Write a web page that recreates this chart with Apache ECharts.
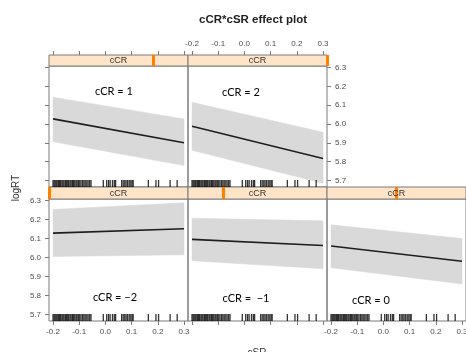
<!DOCTYPE html>
<html lang="en">
  <head>
    <meta charset="UTF-8" />
    <script src="https://cdn.jsdelivr.net/npm/echarts@6/dist/echarts.min.js"></script>
    <title>cCR*cSR effect plot</title>
    <style>
      html, body { margin: 0; padding: 0; background: #fff; }
      #app { width: 466px; height: 352px; }
    </style>
  </head>
  <body>
    <div id="app"></div>

    <script>
      // panels in lattice order: top row cCR = 1, 2 ; bottom row cCR = -2, -1, 0
      const cCRLevels = [1, 2, -2, -1, 0];
      const panelNotes = ["cCR = 1", "cCR = 2", "cCR = \u22122", "cCR =  \u22121", "cCR = 0"];
      const cSREnds = [-0.2, 0.3];
      const fitStart = [6.027, 5.988, 6.128, 6.095, 6.06];
      const fitEnd = [5.9, 5.816, 6.151, 6.063, 5.98];
      const lowerStart = [5.906, 5.86, 6.005, 5.983, 5.946];
      const lowerEnd = [5.779, 5.685, 6.014, 5.94, 5.86];
      const upperStart = [6.142, 6.115, 6.253, 6.207, 6.172];
      const upperEnd = [6.027, 5.956, 6.288, 6.193, 6.1];
      // observed cSR values (rug)
      const rugCSR = [
        -0.2, -0.196, -0.192, -0.188, -0.184, -0.179, -0.175, -0.171, -0.166, -0.162,
        -0.158, -0.153, -0.149, -0.144, -0.14, -0.135, -0.131, -0.126, -0.122, -0.117,
        -0.112, -0.108, -0.103, -0.098, -0.093, -0.087, -0.082, -0.077, -0.071, -0.066,
        -0.06, -0.055, -0.008, 0.005, 0.012, 0.018, 0.027, 0.034, 0.039, 0.062, 0.068,
        0.074, 0.079, 0.085, 0.091, 0.097, 0.102, 0.106, 0.164, 0.193, 0.203, 0.247, 0.274,
      ];
      const cSRTicks = [-0.2, -0.1, 0.0, 0.1, 0.2, 0.3];
      const logRTTicks = [5.7, 5.8, 5.9, 6.0, 6.1, 6.2, 6.3];
      const xRange = [-0.2153, 0.3153];
      const yRange = [5.665, 6.308];

      // layout
      const colLeft = [49, 188, 327];
      const panelW = 139;
      const rowTop = [66, 199];
      const rowH = [121, 122];
      const stripH = [11, 12];
      const cols = [0, 1, 0, 1, 2];
      const rows = [0, 0, 1, 1, 1];
      // which sides carry ticks ('tick') or ticks + labels ('label')
      const leftAx = ["tick", null, "label", null, null];
      const rightAx = [null, "label", null, null, null];
      const topAx = ["tick", "label", null, null, null];
      const bottomAx = [null, null, "label", "tick", "label"];

      const frame = "#7a7a7a";
      const tickText = "#4d4d4d";

      function valAxis(grid, pos, range, ticks, mode, margin) {
        return {
          type: "value",
          gridIndex: grid,
          position: pos,
          min: range[0],
          max: range[1],
          minInterval: 0.1,
          maxInterval: 0.1,
          splitLine: { show: false },
          axisLine: { show: false, onZero: false },
          axisTick: {
            show: !!mode, length: 4, customValues: ticks,
            lineStyle: { color: frame },
          },
          axisLabel: {
            show: mode === "label",
            customValues: ticks,
            fontSize: 8,
            fontFamily: "Liberation Sans",
            color: tickText,
            margin: margin,
            formatter: (v) => v.toFixed(1),
          },
        };
      }
      function hiddenAxis(grid, range) {
        return {
          type: "value", gridIndex: grid, min: range[0], max: range[1], show: false,
          axisLine: { show: false, onZero: false },
        };
      }

      const grids = [], xAxes = [], yAxes = [], series = [], graphics = [];

      cCRLevels.forEach((lev, i) => {
        const left = colLeft[cols[i]];
        const top = rowTop[rows[i]];
        const h = rowH[rows[i]];
        const sh = stripH[rows[i]];
        const gP = 2 * i, gS = 2 * i + 1;

        grids.push({
          left: left, top: top, width: panelW, height: h,
          show: true, borderColor: frame, borderWidth: 1,
          backgroundColor: "transparent", outerBoundsMode: "none",
        });
        grids.push({
          left: left, top: top - sh, width: panelW, height: sh,
          show: true, borderColor: frame, borderWidth: 1,
          backgroundColor: "#ffe4c8", outerBoundsMode: "none",
        });

        xAxes.push(valAxis(gP, "bottom", xRange, cSRTicks, bottomAx[i], 7));
        xAxes.push(hiddenAxis(gS, [-2, 2]));
        xAxes.push(valAxis(gS, "top", xRange, cSRTicks, topAx[i], 7));

        const yMode = leftAx[i] || rightAx[i];
        yAxes.push(valAxis(gP, rightAx[i] ? "right" : "left", yRange, logRTTicks, yMode, 8));
        yAxes.push(hiddenAxis(gS, [0, 1]));

        const band = [
          [cSREnds[0], lowerStart[i], upperStart[i]],
          [cSREnds[1], lowerEnd[i], upperEnd[i]],
        ];
        series.push({
          type: "custom",
          xAxisIndex: 3 * i,
          yAxisIndex: 2 * i,
          data: band,
          encode: { x: 0, y: [1, 2] },
          silent: true,
          z: 1,
          renderItem: function (params, api) {
            const k = params.dataIndex;
            if (k >= band.length - 1) return null;
            const a = band[k], b = band[k + 1];
            return {
              type: "polygon",
              shape: {
                points: [
                  api.coord([a[0], a[2]]),
                  api.coord([b[0], b[2]]),
                  api.coord([b[0], b[1]]),
                  api.coord([a[0], a[1]]),
                ],
              },
              style: { fill: "#d9d9d9", stroke: "#d9d9d9", lineWidth: 0.5 },
            };
          },
        });
        series.push({
          type: "line",
          xAxisIndex: 3 * i,
          yAxisIndex: 2 * i,
          data: [
            [cSREnds[0], fitStart[i]],
            [cSREnds[1], fitEnd[i]],
          ],
          symbol: "none",
          silent: true,
          z: 3,
          lineStyle: { color: "#1e1e1e", width: 1.6 },
        });
        series.push({
          type: "scatter",
          xAxisIndex: 3 * i,
          yAxisIndex: 2 * i,
          data: rugCSR.map((v) => [v, yRange[0]]),
          symbol: "rect",
          symbolSize: [1.3, 7],
          symbolOffset: [0, -3.5],
          clip: false,
          silent: true,
          z: 4,
          itemStyle: { color: "#000" },
        });
        series.push({
          type: "scatter",
          xAxisIndex: 3 * i + 1,
          yAxisIndex: 2 * i + 1,
          data: [[lev, 0.5]],
          symbolSize: 0,
          silent: true,
          markLine: {
            silent: true,
            symbol: ["none", "none"],
            label: { show: false },
            lineStyle: { color: "#ff7f00", width: 3, type: "solid" },
            data: [{ xAxis: lev }],
          },
        });

        graphics.push({
          type: "text",
          x: left + panelW / 2,
          y: top - sh / 2 + 0.5,
          z: 100,
          style: {
            text: "cCR", fill: "#333", font: '9px "Liberation Sans"',
            align: "center", verticalAlign: "middle",
            textAlign: "center", textVerticalAlign: "middle",
          },
        });
      });

      // in-panel notes (added to the figure)
      const notePos = [[114, 91], [241, 92], [115, 297], [246, 298], [371, 300]];
      panelNotes.forEach((t, i) => {
        graphics.push({
          type: "text",
          x: notePos[i][0],
          y: notePos[i][1],
          z: 100,
          style: {
            text: t, fill: "#000", font: '11px "Lato"',
            align: "center", verticalAlign: "middle",
            textAlign: "center", textVerticalAlign: "middle",
          },
        });
      });

      graphics.push({
        type: "text", x: 253, y: 20, z: 100,
        style: {
          text: "cCR*cSR effect plot", fill: "#222",
          font: 'bold 11.5px "Liberation Sans"',
          align: "center", verticalAlign: "middle",
          textAlign: "center", textVerticalAlign: "middle",
        },
      });
      graphics.push({
        type: "text", x: 16, y: 188, z: 100, rotation: Math.PI / 2,
        style: {
          text: "logRT", fill: "#333", font: '10px "Liberation Sans"',
          align: "center", verticalAlign: "middle",
          textAlign: "center", textVerticalAlign: "middle",
        },
      });
      graphics.push({
        type: "text", x: 257, y: 353, z: 100,
        style: {
          text: "cSR", fill: "#333", font: '10px "Liberation Sans"',
          align: "center", verticalAlign: "middle",
          textAlign: "center", textVerticalAlign: "middle",
        },
      });

      const chart = echarts.init(document.getElementById("app"), null, { renderer: "canvas" });
      chart.setOption({
        animation: false,
        backgroundColor: "#fff",
        grid: grids,
        xAxis: xAxes,
        yAxis: yAxes,
        series: series,
        graphic: graphics,
      });
    </script>
  </body>
</html>
